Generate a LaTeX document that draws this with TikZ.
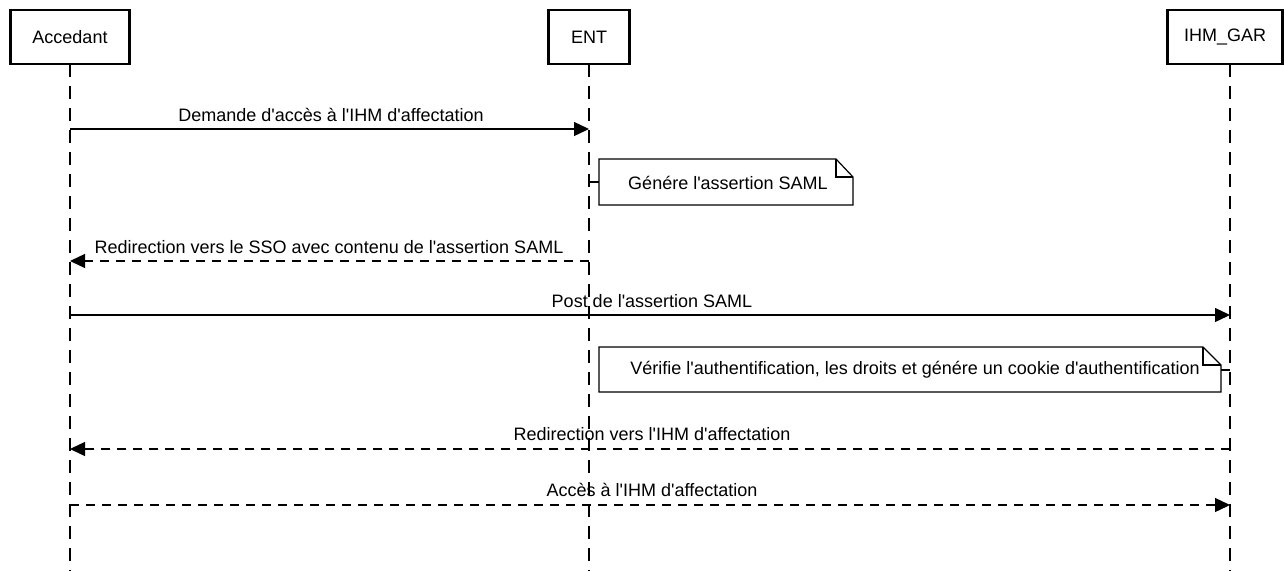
\documentclass[tikz,border=0pt]{standalone}
\usepackage{fontspec}
\setmainfont{Liberation Sans}
\usetikzlibrary{arrows.meta}
\newcommand{\apos}{\textquotesingle}
\tikzset{
  actor/.style={draw, line width=2.8pt, minimum height=54pt, inner sep=0pt, font=\fontsize{18}{21}\selectfont},
  lifeline/.style={line width=1.4pt, dash pattern=on 13pt off 9pt},
  msg/.style={line width=1.3pt, -{Triangle[length=15pt,width=14pt]}},
  reply/.style={msg, dash pattern=on 9pt off 7pt},
  lbl/.style={font=\fontsize{18}{21}\selectfont, anchor=base, inner sep=0pt},
  notebox/.style={line width=1.2pt, fill=white},
  notetext/.style={font=\fontsize{18}{21}\selectfont, inner sep=0pt}
}
\begin{document}
\begin{tikzpicture}[x=1pt,y=-1pt]
\useasboundingbox (0,0) rectangle (1284,570);
% actors
\node[actor, minimum width=119pt] (acc) at (70,37) {Accedant};
\node[actor, minimum width=81pt] (ent) at (589,37) {ENT};
\node[actor, minimum width=115pt] (gar) at (1225,37) {IHM\_GAR};
% lifeline ends
\coordinate (accend) at (70,572);
\coordinate (entend) at (589,572);
\coordinate (garend) at (1230,572);
\draw[lifeline] (70,64) -- (accend);
\draw[lifeline] (589,64) -- (entend);
\draw[lifeline] (1230,64) -- (garend);
% message points
\coordinate (a1) at (70,129);  \coordinate (e1) at (589,129);
\coordinate (e3) at (589,261); \coordinate (a3) at (70,261);
\coordinate (a4) at (70,315);  \coordinate (g4) at (1230,315);
\coordinate (g6) at (1230,449); \coordinate (a6) at (70,449);
\coordinate (a7) at (70,505);  \coordinate (g7) at (1230,505);
% messages
\draw[msg] (a1) -- (e1);
\node[lbl] (l1) at (331,121) {Demande d\apos accès à l\apos IHM d\apos affectation};
\draw[reply] (e3) -- (a3);
\node[lbl] (l3) at (329,253) {Redirection vers le SSO avec contenu de l\apos assertion SAML};
\draw[msg] (a4) -- (g4);
\node[lbl] (l4) at (652,307) {Post de l\apos assertion SAML};
\draw[reply] (g6) -- (a6);
\node[lbl] (l6) at (652,440) {Redirection vers l\apos IHM d\apos affectation};
\draw[reply] (a7) -- (g7);
\node[lbl] (l7) at (652,496) {Accès à l\apos IHM d\apos affectation};
% note 1
\coordinate (n1c) at (589,182);
\draw[notebox] (599,159) -- (836,159) -- (853,177) -- (853,205) -- (599,205) -- cycle;
\draw[line width=1.2pt] (836,159) -- (836,177) -- (853,177);
\draw[line width=1.2pt] (n1c) -- (599,182);
\node[notetext] (n1) at (728,183) {Génére l\apos assertion SAML};
% note 2
\coordinate (n2c) at (1230,370);
\draw[notebox] (599,347) -- (1203,347) -- (1221,365) -- (1221,392) -- (599,392) -- cycle;
\node[notetext] (n2) at (915,370) {Vérifie l\apos authentification, les droits et génére un cookie d\apos authentification};
\draw[line width=1.2pt] (1203,347) -- (1203,365) -- (1221,365);
\draw[line width=1.2pt] (1221,370) -- (n2c);
\end{tikzpicture}
\end{document}
